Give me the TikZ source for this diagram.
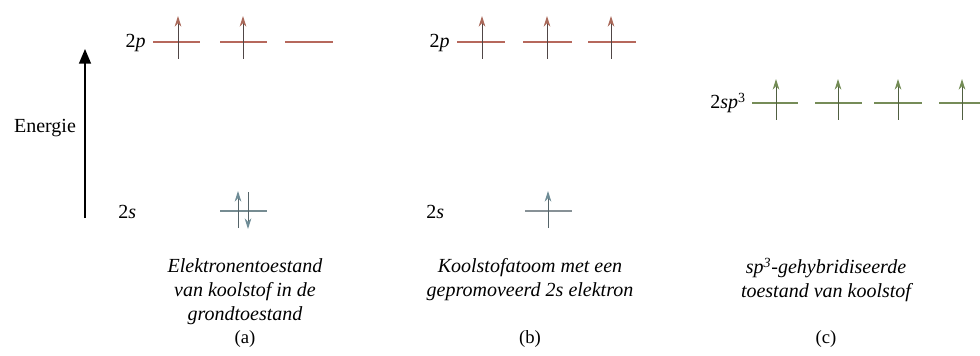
\documentclass[tikz,border=0pt]{standalone}
\usepackage{fontspec}
\setmainfont{Liberation Serif}
\usetikzlibrary{arrows.meta}
\definecolor{pred}{RGB}{182,104,92}
\definecolor{parr}{RGB}{80,70,70}
\definecolor{phead}{RGB}{170,105,90}
\definecolor{sgray}{RGB}{118,140,146}
\definecolor{sarr}{RGB}{85,100,105}
\definecolor{shead}{RGB}{110,140,150}
\definecolor{bgray}{RGB}{135,145,150}
\definecolor{hgreen}{RGB}{118,140,88}
\definecolor{harr}{RGB}{80,95,65}
\definecolor{hhead}{RGB}{115,140,85}
\begin{document}
\begin{tikzpicture}[x=0.75pt,y=-0.75pt,
  font=\fontsize{15}{18}\selectfont,
  lvl/.style={line width=1.5pt},
  spinup/.style={line width=0.75pt,-{Stealth[length=8pt,width=5pt,color=#1]}},
  lab/.style={inner sep=0pt},
  captext/.style={align=center,inner sep=0pt,font=\fontsize{15}{18}\selectfont\itshape},
  tagtext/.style={inner sep=0pt,font=\fontsize{14}{17}\selectfont}]
\useasboundingbox (0,0) rectangle (980,356);

% energy axis
\coordinate (ebot) at (85,218);
\coordinate (etop) at (85,49);
\draw[line width=1.1pt,-{Triangle[length=11pt,width=9pt]}] (ebot) -- (etop);
\node[lab] (energie) at (45,128) {Energie};

% (a)
\node[lab,anchor=east] (a2p) at (146,43) {2\textit{p}};
\draw[lvl,pred] (153,42) -- (200,42);
\draw[lvl,pred] (220,42) -- (267,42);
\draw[lvl,pred] (285,42) -- (333,42);
\draw[spinup=phead,parr] (178,59) -- (178,16);
\draw[spinup=phead,parr] (243,59) -- (243,16);

\node[lab,anchor=west] (a2s) at (118,212) {2\textit{s}};
\draw[lvl,sgray] (220,211) -- (267,211);
\draw[spinup=shead,sarr] (238,228) -- (238,191);
\draw[spinup=shead,sarr] (248,192) -- (248,229);

% (b)
\node[lab,anchor=east] (b2p) at (450,43) {2\textit{p}};
\draw[lvl,pred] (457,42) -- (505,42);
\draw[lvl,pred] (523,42) -- (572,42);
\draw[lvl,pred] (588,42) -- (636,42);
\draw[spinup=phead,parr] (482,59) -- (482,16);
\draw[spinup=phead,parr] (547,59) -- (547,16);
\draw[spinup=phead,parr] (611,59) -- (611,16);

\node[lab,anchor=west] (b2s) at (426,212) {2\textit{s}};
\draw[lvl,bgray] (525,211) -- (572,211);
\draw[spinup=shead,sarr] (548,228) -- (548,191);

% (c)
\node[lab,anchor=east] (c2sp3) at (746,103) {2\textit{sp}\textsuperscript{3}};
\draw[lvl,hgreen] (752,103) -- (798,103);
\draw[lvl,hgreen] (815,103) -- (862,103);
\draw[lvl,hgreen] (874,103) -- (922,103);
\draw[lvl,hgreen] (939,103) -- (980,103);
\draw[spinup=hhead,harr] (776,120) -- (776,79);
\draw[spinup=hhead,harr] (838,120) -- (838,79);
\draw[spinup=hhead,harr] (898,120) -- (898,79);
\draw[spinup=hhead,harr] (962,120) -- (962,79);

% captions
\node[captext] (capa) at (245,292) {Elektronentoestand\\van koolstof in de\\grondtoestand};
\node[tagtext] (taga) at (245,339) {(a)};
\node[captext] (capb) at (530,280) {Koolstofatoom met een\\gepromoveerd 2s elektron};
\node[tagtext] (tagb) at (530,339) {(b)};
\node[captext] (capc) at (826,280) {sp\textsuperscript{3}-gehybridiseerde\\toestand van koolstof};
\node[tagtext] (tagc) at (826,339) {(c)};
\end{tikzpicture}
\end{document}
